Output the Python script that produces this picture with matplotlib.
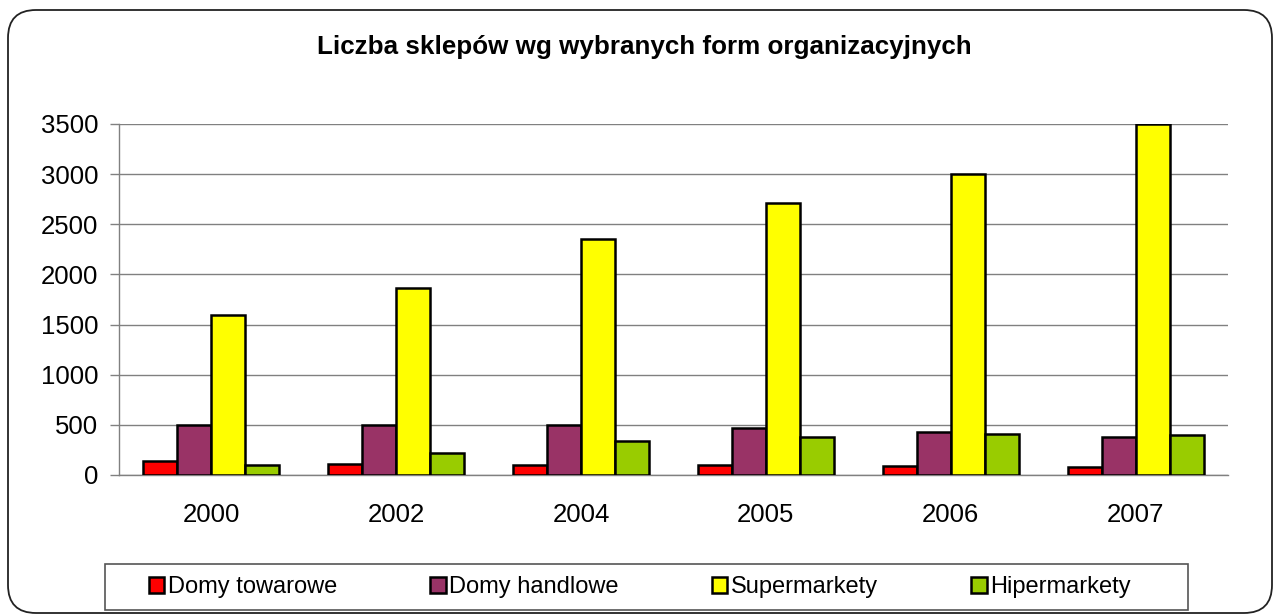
import matplotlib
matplotlib.use("Agg")
import matplotlib.pyplot as plt
import numpy as np
from matplotlib.patches import FancyBboxPatch, Rectangle

years = ["2000", "2002", "2004", "2005", "2006", "2007"]
series_names = ["Domy towarowe", "Domy handlowe", "Supermarkety", "Hipermarkety"]
domy_towarowe = [140, 110, 100, 100, 90, 80]
domy_handlowe = [500, 500, 500, 465, 430, 375]
supermarkety = [1600, 1860, 2350, 2710, 3000, 3500]
hipermarkety = [100, 220, 340, 375, 410, 400]
colors = ["#FF0000", "#993366", "#FFFF00", "#99CC00"]
yticks = [0, 500, 1000, 1500, 2000, 2500, 3000, 3500]

plt.rcParams['font.family'] = ['Liberation Sans', 'DejaVu Sans']

W, H = 1274, 615
fig = plt.figure(figsize=(W / 100, H / 100), dpi=100)
fig.patch.set_facecolor("white")

# rounded outer frame (pixel coordinates -> inches)
frame = FancyBboxPatch((8 / 100, (H - 613) / 100), (1272 - 8) / 100, (613 - 10) / 100,
                       boxstyle="round,pad=0,rounding_size=0.28",
                       transform=fig.dpi_scale_trans, facecolor="none",
                       edgecolor="#222222", linewidth=1.3, zorder=0)
fig.patches.append(frame)

left, right, top, bottom = 119, 1228, 124, 475
ax = fig.add_axes([left / W, 1 - bottom / H, (right - left) / W, (bottom - top) / H])

x = np.arange(len(years))
bw = 0.184
data = [domy_towarowe, domy_handlowe, supermarkety, hipermarkety]
for i, (vals, name, c) in enumerate(zip(data, series_names, colors)):
    ax.bar(x + (i - 1.5) * bw, vals, width=bw, color=c, edgecolor="black",
           linewidth=1.8, label=name, zorder=3)

ax.set_xlim(-0.5, len(years) - 0.5)
ax.set_ylim(0, 3500)
ax.set_yticks(yticks)
ax.set_yticklabels([str(v) for v in yticks], fontsize=18.5)
ax.set_xticks(x)
ax.set_xticklabels(years, fontsize=18.5)
ax.tick_params(axis="x", length=0, pad=20.5)
ax.tick_params(axis="y", length=6.5, width=1, color="#808080", pad=8.6)
ax.yaxis.grid(True, color="#808080", linewidth=1.0, zorder=0)
ax.set_axisbelow(True)
for s in ["top", "right"]:
    ax.spines[s].set_visible(False)
for s in ["left", "bottom"]:
    ax.spines[s].set_color("#808080")
    ax.spines[s].set_linewidth(1.0)

fig.text(644 / W, 1 - 47 / H, "Liczba sklepów wg wybranych form organizacyjnych",
         ha="center", va="center", fontsize=18.7, fontweight="bold")

# legend box
lx0, lx1, ly0, ly1 = 105, 1188, 564, 610
fig.patches.append(Rectangle((lx0 / W, 1 - ly1 / H), (lx1 - lx0) / W, (ly1 - ly0) / H,
                             transform=fig.transFigure, facecolor="white",
                             edgecolor="#555555", linewidth=1.2, zorder=1))
handles, labels = ax.get_legend_handles_labels()
leg = fig.legend(handles, labels, loc="center", ncol=4,
                 bbox_to_anchor=(640 / W, 1 - 587 / H),
                 fontsize=17, frameon=False,
                 handlelength=0.65, handleheight=0.65, handletextpad=0.15,
                 columnspacing=3.95, borderaxespad=0, borderpad=0)

fig.savefig("out.png", dpi=100, facecolor="white")
